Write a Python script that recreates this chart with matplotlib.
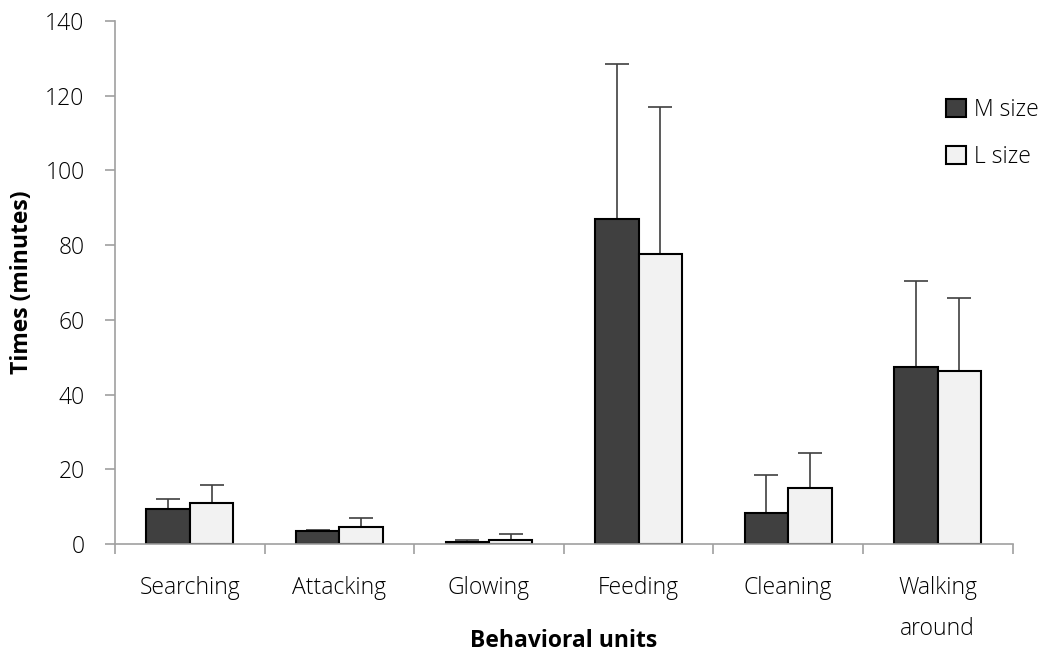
import matplotlib
matplotlib.use("Agg")
import matplotlib.pyplot as plt
import numpy as np

categories = ["Searching", "Attacking", "Glowing", "Feeding", "Cleaning", "Walking\naround"]
m_size = [9.5, 3.5, 0.5, 87.0, 8.2, 47.3]
m_err = [2.5, 0.4, 0.5, 41.5, 10.3, 23.2]
l_size = [10.9, 4.5, 1.1, 77.5, 14.9, 46.4]
l_err = [4.9, 2.5, 1.5, 39.5, 9.5, 19.5]
series_labels = ["M size", "L size"]
yticks = [0, 20, 40, 60, 80, 100, 120, 140]

plt.rcParams['font.family'] = ['Open Sans', 'DejaVu Sans']
FS = 16.5
TW = "light"

fig = plt.figure(figsize=(10.46, 6.54), dpi=100)
ax = fig.add_axes([0.110, 0.168, 0.858, 0.800])

x = np.arange(len(categories))
w = 0.29
ax.bar(x - w/2, m_size, w, color="#404040", edgecolor="black", linewidth=1.5,
       label=series_labels[0], zorder=2)
ax.bar(x + w/2, l_size, w, color="#f2f2f2", edgecolor="black", linewidth=1.5,
       label=series_labels[1], zorder=2)
ax.errorbar(x - w/2, m_size, yerr=[np.zeros(len(m_err)), m_err], fmt="none",
            ecolor="#404040", elinewidth=1.2, capsize=8.5, capthick=1.2, zorder=1)
ax.errorbar(x + w/2, l_size, yerr=[np.zeros(len(l_err)), l_err], fmt="none",
            ecolor="#404040", elinewidth=1.2, capsize=8.5, capthick=1.2, zorder=1)

ax.set_xlim(-0.5, len(categories) - 0.5)
ax.set_ylim(0, 140)
ax.set_yticks(yticks)
ax.set_yticklabels([str(v) for v in yticks], fontsize=FS, fontweight=TW)
ax.set_xticks(np.arange(-0.5, len(categories), 1.0))
ax.set_xticklabels([])
ax.set_xticks(x, minor=True)
ax.set_xticklabels(categories, minor=True, fontsize=FS, fontweight=TW, linespacing=1.95,
                   va="top")
ax.tick_params(axis="x", which="minor", length=0, pad=23)
ax.tick_params(axis="x", which="major", length=7, color="#a0a0a0", width=1.2)
ax.tick_params(axis="y", length=7, color="#a0a0a0", width=1.2, pad=15)

for s in ["top", "right"]:
    ax.spines[s].set_visible(False)
for s in ["left", "bottom"]:
    ax.spines[s].set_color("#a0a0a0")
    ax.spines[s].set_linewidth(1.2)

ax.set_ylabel("Times (minutes)", fontsize=FS, fontweight="bold", va="center")
ax.yaxis.set_label_coords(-0.104, 0.5)
ax.set_xlabel("Behavioral units", fontsize=FS, fontweight="bold", va="center")
ax.xaxis.set_label_coords(0.5, -0.186)

leg = ax.legend(loc="upper right", bbox_to_anchor=(1.052, 0.892), frameon=False,
                prop={"size": FS, "weight": TW},
                handlelength=0.85, handleheight=0.85, labelspacing=1.0, handletextpad=0.35)

fig.savefig("out.png", dpi=100)
